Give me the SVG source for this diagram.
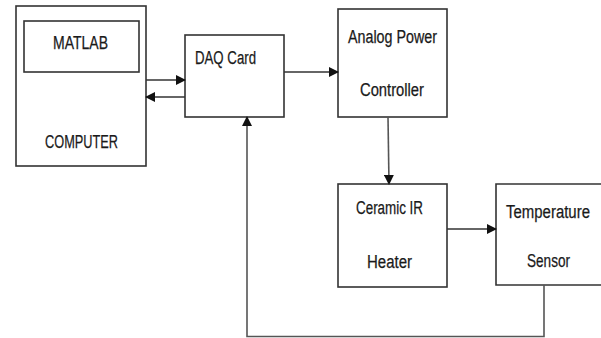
<svg xmlns="http://www.w3.org/2000/svg" width="601" height="338" viewBox="0 0 601 338">
<style>
.box{fill:#fff;stroke:#333;stroke-width:1.6}
.lbl{font-family:"Liberation Sans",Arial,sans-serif;font-size:18px;fill:#1a1a1a;stroke:#1a1a1a;stroke-width:0.25}
.con{fill:none;stroke:#333;stroke-width:1.6}
.con2{fill:none;stroke:#555;stroke-width:1.6}
</style>
<defs>
<marker id="ah" markerWidth="10" markerHeight="10" refX="9" refY="5" orient="auto" markerUnits="userSpaceOnUse">
<path d="M0,0 L10,5 L0,10 Z" fill="#111"/>
</marker>
</defs>
<rect width="601" height="338" fill="#fff"/>
<g id="computer">
<rect class="box" x="16" y="6" width="130" height="160"/>
<text class="lbl" x="45" y="148" textLength="73" lengthAdjust="spacingAndGlyphs">COMPUTER</text>
</g>
<g id="matlab">
<rect class="box" x="24" y="21" width="115" height="51"/>
<text class="lbl" x="53" y="49" textLength="55" lengthAdjust="spacingAndGlyphs">MATLAB</text>
</g>
<g id="daq">
<rect class="box" x="185" y="35" width="99" height="82"/>
<text class="lbl" x="195" y="64" textLength="61" lengthAdjust="spacingAndGlyphs">DAQ Card</text>
</g>
<g id="apc">
<rect class="box" x="338" y="9" width="109" height="108"/>
<text class="lbl" x="348" y="43" textLength="89" lengthAdjust="spacingAndGlyphs">Analog Power</text>
<text class="lbl" x="360" y="96" textLength="64" lengthAdjust="spacingAndGlyphs">Controller</text>
</g>
<g id="heater">
<rect class="box" x="338" y="184" width="109" height="103"/>
<text class="lbl" x="356" y="214" textLength="67" lengthAdjust="spacingAndGlyphs">Ceramic IR</text>
<text class="lbl" x="367" y="268" textLength="45" lengthAdjust="spacingAndGlyphs">Heater</text>
</g>
<g id="sensor">
<path class="box" d="M601,184 H496 V285 H601"/>
<text class="lbl" x="506" y="218" textLength="84" lengthAdjust="spacingAndGlyphs">Temperature</text>
<text class="lbl" x="527" y="267" textLength="43" lengthAdjust="spacingAndGlyphs">Sensor</text>
</g>
<g id="connectors">
<path class="con" d="M146,80 H185" marker-end="url(#ah)"/>
<path class="con" d="M185,97 H146" marker-end="url(#ah)"/>
<path class="con" d="M284,72 H338" marker-end="url(#ah)"/>
<path class="con2" d="M388,117 L389,184" marker-end="url(#ah)"/>
<path class="con" d="M447,229 H496" marker-end="url(#ah)"/>
<path class="con2" d="M544,285 V336.5 H247 V117" marker-end="url(#ah)"/>
</g>
</svg>
